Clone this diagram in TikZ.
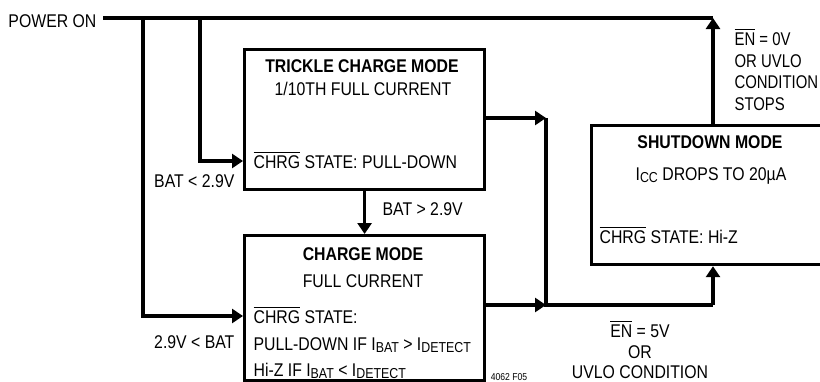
\documentclass[tikz,border=0pt]{standalone}
\usepackage{fontspec}
\setmainfont{Liberation Sans}[FakeStretch=0.86]
\newfontfamily\narrowfont{Liberation Sans}[FakeStretch=0.81]
\usetikzlibrary{arrows.meta}

% subscripts as the figure sets them: large and low
\newcommand{\lowsub}[1]{\raisebox{-1.3pt}{\fontsize{7.2}{8}\selectfont #1}}

\begin{document}
\begin{tikzpicture}[x = 0.5pt, y = -0.5pt, line width = 1.6pt,
                        font = \fontsize{9.2}{11}\selectfont,
                        modebox/.style = {rectangle, draw, anchor = north west, inner sep = 0pt},
                        txt/.style = {inner sep = 0pt},
                        narrow/.style = {txt, anchor = base west, font = {\fontsize{9.2}{11}\narrowfont}},
                        arr/.style = {-{Triangle[length = 5.5pt, width = 7pt]}}]
      \useasboundingbox (0, 0) rectangle (820, 381);

      \node [txt, anchor = base east, inner sep = 2.5pt] (pwr) at (103, 27) {POWER ON};

      \node [modebox, minimum width = 120pt, minimum height = 70pt] (trickle) at (243, 48){};
      \node [txt, anchor = base] (tc-title) at (362, 72) {\textbf{TRICKLE CHARGE MODE}};
      \node [txt, anchor = base] (tc-cur) at (363, 95) {1/10TH FULL CURRENT};
      \node [txt, anchor = base west] (tc-chrg) at (252, 168) {$\overline{\mbox{CHRG}}$ STATE: PULL-DOWN};

      \node [modebox, minimum width = 120pt, minimum height = 72.5pt] (charge) at (243, 234){};
      \node [txt, anchor = base] (cm-title) at (363, 260) {\textbf{CHARGE MODE}};
      \node [txt, anchor = base] (cm-cur) at (363, 287) {FULL CURRENT};
      \node [txt, anchor = base west] (cm-chrg) at (252, 323) {$\overline{\mbox{CHRG}}$ STATE:};
      \node [txt, anchor = base west] (cm-pd) at (252, 350) {PULL-DOWN IF I\lowsub{BAT} > I\lowsub{DETECT}};
      \node [txt, anchor = base west] (cm-hiz) at (252, 376) {Hi-Z IF I\lowsub{BAT} < I\lowsub{DETECT}};

      \node [modebox, minimum width = 118pt, minimum height = 69.5pt] (shut) at (590, 124){};
      \node [txt, anchor = base] (sd-title) at (710, 148) {\textbf{SHUTDOWN MODE}};
      \node [txt, anchor = base] (sd-icc) at (711, 180) {I\lowsub{CC} DROPS TO 20µA};
      \node [txt, anchor = base west] (sd-chrg) at (598, 243) {$\overline{\mbox{CHRG}}$ STATE: Hi-Z};

      \node [txt, anchor = base east] (lo-a) at (236, 187) {BAT < 2.9V};
      \node [txt, anchor = base east] (lo-b) at (236, 348) {2.9V < BAT};
      \node [txt, anchor = base west] (hi-a) at (381, 215) {BAT > 2.9V};

      % labels beside the right edge are a little narrower
      \node [narrow] (stop-1) at (733, 45) {$\overline{\mbox{EN}}$ = 0V};
      \node [narrow] (stop-2) at (733, 67) {OR UVLO};
      \node [narrow] (stop-3) at (733, 88) {CONDITION};
      \node [narrow] (stop-4) at (733, 110) {STOPS};

      \node [txt, anchor = base] (go-1) at (640, 337) {$\overline{\mbox{EN}}$ = 5V};
      \node [txt, anchor = base] (go-2) at (640, 358) {OR};
      \node [txt, anchor = base] (go-3) at (640, 378) {UVLO CONDITION};

      \node [txt, anchor = base, font = \fontsize{5}{6}\selectfont] (fig) at (509, 380) {4062 F05};

      \coordinate (pw-end) at (713, 18);
      \coordinate (j-a) at (143, 18);
      \coordinate (j-b) at (200, 18);
      \coordinate (tc-in) at (243, 161);
      \coordinate (chg-in) at (243, 316);
      \coordinate (bus-top) at (546, 118);
      \coordinate (bus-bot) at (546, 305);
      \coordinate (sd-in) at (713, 305);

      \draw (pwr.east |- pw-end) -- (pw-end);
      \draw [arr] (j-b) |- (tc-in);
      \draw [arr] (j-a) |- (chg-in);
      \draw [arr] (trickle.south) -- (charge.north);

      \draw [arr] (trickle.east |- bus-top) -- (bus-top);
      \draw [arr] (charge.east |- bus-bot) -- (bus-bot);
      \draw (bus-top) -- (bus-bot) -- (sd-in);
      \draw [arr] (sd-in) -- (shut.south -| sd-in);
      \draw [arr] (shut.north -| pw-end) -- (pw-end);
\end{tikzpicture}
\end{document}
